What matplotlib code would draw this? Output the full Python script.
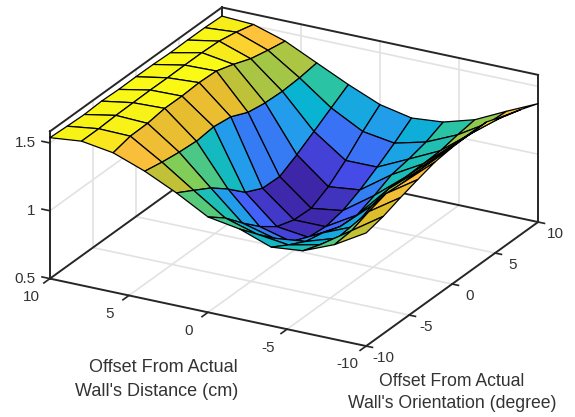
import numpy as np
import matplotlib
matplotlib.use("Agg")
import matplotlib.pyplot as plt
from matplotlib.colors import LinearSegmentedColormap, Normalize
from mpl_toolkits.mplot3d import proj3d

plt.rcParams['font.family'] = ['Liberation Sans', 'DejaVu Sans']

# grid of the surface
distance = [-10, -8, -6, -4, -2, 0, 2, 4, 6, 8, 10]
orientation = [-10, -8, -6, -4, -2, 0, 2, 4, 6, 8, 10]

# one row per distance, values run from orientation 10 down to -10
z_m10 = [1.373, 1.421, 1.464, 1.512, 1.511, 1.507, 1.491, 1.453, 1.412, 1.365, 1.334]
z_m8 = [1.267, 1.275, 1.29, 1.30, 1.30, 1.294, 1.29, 1.30, 1.259, 1.21, 1.198]
z_m6 = [1.155, 1.135, 1.109, 1.104, 1.10, 1.103, 1.069, 1.008, 1.013, 1.056, 1.103]
z_m4 = [1.088, 1.032, 0.998, 0.974, 0.913, 0.860, 0.865, 0.911, 0.939, 1.005, 1.080]
z_m2 = [1.068, 0.974, 0.889, 0.812, 0.751, 0.724, 0.737, 0.796, 0.913, 1.035, 1.164]
z_0 = [1.117, 1.010, 0.888, 0.786, 0.718, 0.724, 0.766, 0.858, 0.975, 1.104, 1.203]
z_2 = [1.215, 1.134, 1.052, 0.972, 0.903, 0.908, 0.970, 1.085, 1.184, 1.258, 1.331]
z_4 = [1.325, 1.306, 1.298, 1.305, 1.327, 1.385, 1.403, 1.388, 1.398, 1.416, 1.441]
z_6 = [1.436, 1.460, 1.489, 1.539, 1.581, 1.587, 1.579, 1.580, 1.561, 1.558, 1.527]
z_8 = [1.509, 1.544, 1.569, 1.575, 1.575, 1.573, 1.574, 1.572, 1.570, 1.563, 1.563]
z_10 = [1.521, 1.527, 1.527, 1.525, 1.530, 1.531, 1.529, 1.534, 1.527, 1.532, 1.539]

x_ticks = [10, 5, 0, -5, -10]
y_ticks = [-10, -5, 0, 5, 10]
z_ticks = [0.5, 1, 1.5]
z_tick_labels = ['0.5', '1', '1.5']
z_top = 1.585

parula = LinearSegmentedColormap.from_list('parula', [
    (0.0, (0.2422, 0.1504, 0.6603)),
    (0.14, (0.2810, 0.3400, 0.9800)),
    (0.27, (0.1540, 0.5902, 0.9400)),
    (0.39, (0.0300, 0.7100, 0.8200)),
    (0.50, (0.2000, 0.7800, 0.6000)),
    (0.62, (0.5000, 0.8000, 0.3500)),
    (0.74, (0.8600, 0.7400, 0.1600)),
    (0.85, (1.0000, 0.7500, 0.2400)),
    (0.95, (0.9700, 0.9300, 0.1000)),
    (1.0, (0.9769, 0.9839, 0.0805)),
])

fig = plt.figure(figsize=(5.75, 4.17), dpi=100)
ax = fig.add_axes([-1.26 / 575, -0.1319, 1, 575 / 417], projection='3d', computed_zorder=False)
ax.set_proj_type('ortho')
ax.view_init(elev=23.09, azim=-61.46)
ax.set_box_aspect((360, 360, 160), zoom=0.9009)
ax.set_xlim(10, -10, view_margin=0)
ax.set_ylim(-10, 10, view_margin=0)
ax.set_zlim(0.5, z_top, view_margin=0)
ax.set_axis_off()

dark = '#333333'
line = '#262626'
grid = '#e2e2e2'


def label3d(x, y, z, s, **kw):
    px, py, _ = proj3d.proj_transform(x, y, z, ax.get_proj())
    ax.text2D(px, py, s, transform=ax.transData, color=dark, va='center', fontsize=11, **kw)


# grid on the floor and the two back walls
for v in x_ticks[1:-1]:
    ax.plot([v, v], [-10, 10], [0.5, 0.5], color=grid, lw=1.2, zorder=1)
    ax.plot([v, v], [10, 10], [0.5, z_top], color=grid, lw=1.2, zorder=1)
for v in y_ticks[1:-1]:
    ax.plot([-10, 10], [v, v], [0.5, 0.5], color=grid, lw=1.2, zorder=1)
    ax.plot([10, 10], [v, v], [0.5, z_top], color=grid, lw=1.2, zorder=1)
for v in z_ticks[1:]:
    ax.plot([10, 10], [-10, 10], [v, v], color=grid, lw=1.2, zorder=1)
    ax.plot([-10, 10], [10, 10], [v, v], color=grid, lw=1.2, zorder=1)

# box edges
edges = [
    ((10, -10, 0.5), (-10, -10, 0.5)),
    ((-10, -10, 0.5), (-10, 10, 0.5)),
    ((-10, 10, 0.5), (10, 10, 0.5)),
    ((10, 10, 0.5), (10, -10, 0.5)),
    ((10, -10, 0.5), (10, -10, z_top)),
    ((10, 10, 0.5), (10, 10, z_top)),
    ((-10, 10, 0.5), (-10, 10, z_top)),
    ((10, -10, z_top), (10, 10, z_top)),
    ((10, 10, z_top), (-10, 10, z_top)),
]
for p, q in edges:
    ax.plot([p[0], q[0]], [p[1], q[1]], [p[2], q[2]], color=line, lw=1.4, zorder=2)

# ticks and their labels
for v in x_ticks:
    ax.plot([v, v], [-10, -10.7], [0.5, 0.5], color=line, lw=1.2, zorder=2)
    label3d(v, -12.2, 0.465, str(v), ha='center')
for v in y_ticks:
    ax.plot([-10, -10.4], [v, v], [0.5, 0.5], color=line, lw=1.2, zorder=2)
    label3d(-11.1, v, 0.44, str(v), ha='center')
for v, lab in zip(z_ticks, z_tick_labels):
    ax.plot([10, 10.5], [-10, -10], [v, v], color=line, lw=1.2, zorder=2)
    label3d(10.9, -10, v - 0.022, lab, ha='right')

# surface, each face takes the colour of its lowest distance / orientation corner
X, Y = np.meshgrid(distance, orientation, indexing='ij')
Z = np.array([z_m10, z_m8, z_m6, z_m4, z_m2, z_0, z_2, z_4, z_6, z_8, z_10])[:, ::-1]
norm = Normalize(vmin=Z.min(), vmax=Z.max())
ax.plot_surface(X, Y, Z, rstride=1, cstride=1, facecolors=parula(norm(Z)), shade=False,
                edgecolor='black', linewidth=0.9, antialiased=True, zorder=3)

# axis titles
fig.text(238 / 575, 1 - 367 / 417, 'Offset From Actual', ha='right', va='center', fontsize=13, color=dark)
fig.text(238 / 575, 1 - 391 / 417, "Wall's Distance (cm)", ha='right', va='center', fontsize=13, color=dark)
fig.text(452 / 575, 1 - 381 / 417, 'Offset From Actual', ha='center', va='center', fontsize=12.7, color=dark)
fig.text(452 / 575, 1 - 404 / 417, "Wall's Orientation (degree)", ha='center', va='center', fontsize=12.7, color=dark)

fig.savefig('out.png', dpi=100)
